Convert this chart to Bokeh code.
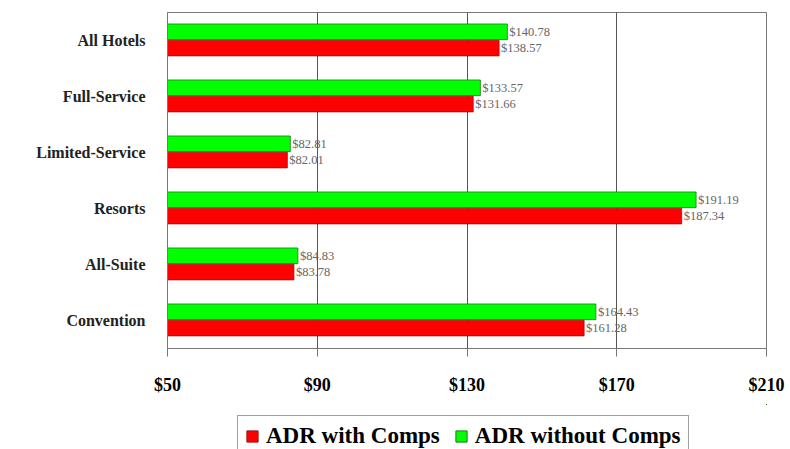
from bokeh.plotting import figure
from bokeh.layouts import column
from bokeh.models import ColumnDataSource, FixedTicker, NumeralTickFormatter, LabelSet, Legend, LegendItem, FactorRange
from bokeh.transform import dodge
from bokeh.embed import file_html
from bokeh.resources import INLINE

categories = ["All Hotels", "Full-Service", "Limited-Service", "Resorts", "All-Suite", "Convention"]
adr_with_comps = [138.57, 131.66, 82.01, 187.34, 83.78, 161.28]
adr_without_comps = [140.78, 133.57, 82.81, 191.19, 84.83, 164.43]
x_ticks = [50, 90, 130, 170, 210]
series_names = ["ADR with Comps", "ADR without Comps"]

cats_bottom_up = list(reversed(categories))
src = ColumnDataSource(dict(
    cat=categories,
    with_c=adr_with_comps,
    without_c=adr_without_comps,
    with_lbl=["$%.2f" % v for v in adr_with_comps],
    without_lbl=["$%.2f" % v for v in adr_without_comps],
))

GREEN, GREEN_LINE = "#00FF00", "#1a7a1a"
RED, RED_LINE = "#FF0000", "#a01010"

p = figure(width=790, height=404, output_backend="svg", toolbar_location=None,
           y_range=FactorRange(factors=cats_bottom_up, range_padding=0),
           x_range=(50, 210),
           min_border_left=167, min_border_right=24, min_border_top=12, min_border_bottom=56)

rg = p.hbar(y=dodge("cat", 0.155, range=p.y_range), left=50, right="without_c", height=0.28,
            source=src, fill_color=GREEN, line_color=GREEN_LINE, line_width=0.8)
rr = p.hbar(y=dodge("cat", -0.135, range=p.y_range), left=50, right="with_c", height=0.28,
            source=src, fill_color=RED, line_color=RED_LINE, line_width=0.8)

lab_style = dict(text_font="Liberation Serif", text_font_size="12.5px", text_color="#666666",
                 text_baseline="middle", x_offset=2)
p.add_layout(LabelSet(x="without_c", y=dodge("cat", 0.155, range=p.y_range), text="without_lbl",
                      source=src, **lab_style))
p.add_layout(LabelSet(x="with_c", y=dodge("cat", -0.135, range=p.y_range), text="with_lbl",
                      source=src, **lab_style))

p.xaxis.ticker = FixedTicker(ticks=x_ticks)
p.xaxis.formatter = NumeralTickFormatter(format="$0")
p.xaxis.major_label_text_font = "Liberation Serif"
p.xaxis.major_label_text_font_style = "bold"
p.xaxis.major_label_text_font_size = "18px"
p.xaxis.major_label_text_color = "black"
p.xaxis.major_label_standoff = 18
p.xaxis.major_tick_out = 8
p.xaxis.major_tick_in = 0
p.xaxis.minor_tick_line_color = None
p.xaxis.axis_line_color = "#777777"
p.xaxis.major_tick_line_color = "#777777"

p.yaxis.major_label_text_font = "Liberation Serif"
p.yaxis.major_label_text_font_style = "bold"
p.yaxis.major_label_text_font_size = "16px"
p.yaxis.major_label_text_color = "#222222"
p.yaxis.major_label_standoff = 16
p.yaxis.major_tick_line_color = None
p.yaxis.axis_line_color = "#777777"

p.xgrid.ticker = FixedTicker(ticks=x_ticks)
p.xgrid.grid_line_color = "#555555"
p.xgrid.grid_line_alpha = 1
p.ygrid.grid_line_color = None
p.outline_line_color = "#777777"
p.outline_line_width = 1

# legend strip below the chart (proxy renderers sit outside its visible range)
q = figure(width=790, height=45, output_backend="svg", toolbar_location=None,
           x_range=(0, 1), y_range=(0, 1), x_axis_type=None, y_axis_type=None,
           min_border=0, min_border_left=0, min_border_right=0, min_border_top=0, min_border_bottom=0)
q.grid.grid_line_color = None
q.outline_line_color = None
lr = q.hbar(y="with_c", left="with_c", right="with_c", height=0.1, source=src,
            fill_color=RED, line_color=RED_LINE)
lg = q.hbar(y="without_c", left="without_c", right="without_c", height=0.1, source=src,
            fill_color=GREEN, line_color=GREEN_LINE)

legend = Legend(items=[LegendItem(label=series_names[0], renderers=[lr]),
                       LegendItem(label=series_names[1], renderers=[lg])],
                orientation="horizontal", location=(70, -8),
                label_text_font="Liberation Serif", label_text_font_style="bold",
                label_text_font_size="23px", label_text_color="black",
                glyph_width=14, glyph_height=14, spacing=14, padding=7, label_standoff=7,
                border_line_color="#444444", margin=0)
q.add_layout(legend, "center")

open("out.html", "w").write(file_html(column(p, q, spacing=0), INLINE))
